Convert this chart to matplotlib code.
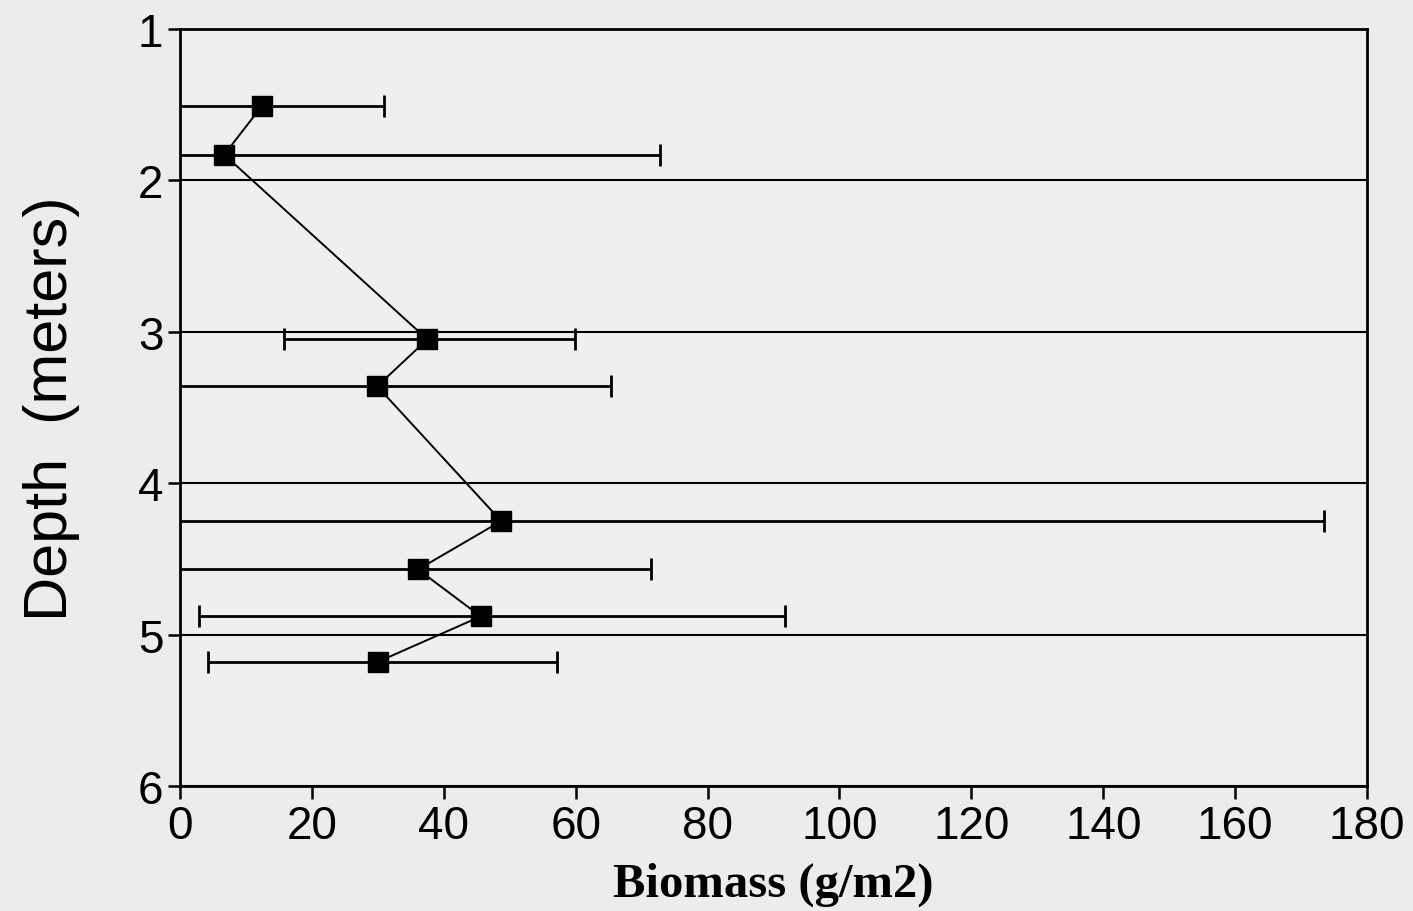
import matplotlib
matplotlib.use("Agg")
import matplotlib.pyplot as plt
import numpy as np

# depth (m) and biomass (g/m2) with lower/upper error-bar ends
depth = [1.51, 1.83, 3.05, 3.36, 4.25, 4.57, 4.88, 5.18]
biomass = [12.4, 6.7, 37.5, 29.9, 48.7, 36.1, 45.6, 30.0]
err_low_end = [-6.0, -53.0, 15.8, -6.0, -76.0, -1.0, 2.9, 4.2]
err_high_end = [31.0, 72.8, 59.9, 65.4, 173.5, 71.4, 91.7, 57.2]

x_ticks = [0, 20, 40, 60, 80, 100, 120, 140, 160, 180]
y_ticks = [1, 2, 3, 4, 5, 6]

bg = "#ececec"
fig = plt.figure(figsize=(14.13, 9.12), dpi=100, facecolor=bg)
ax = fig.add_axes([0.1274, 0.1371, 0.8401, 0.8300], facecolor="#efefef")

b = np.array(biomass)
xerr = np.vstack([b - np.array(err_low_end), np.array(err_high_end) - b])
ax.errorbar(biomass, depth, xerr=xerr, fmt="none", ecolor="black",
            elinewidth=2.0, capsize=8, capthick=2.0, zorder=3)
ax.plot(biomass, depth, color="black", linewidth=1.4, marker="s",
        markersize=14, markerfacecolor="black", zorder=4)

ax.set_xlim(0, 180)
ax.set_ylim(6, 1)
ax.set_xticks(x_ticks)
ax.set_yticks(y_ticks)
ax.yaxis.grid(True, color="black", linewidth=1.5)
ax.set_axisbelow(True)

for s in ax.spines.values():
    s.set_linewidth(2.0)
ax.tick_params(direction="out", length=9, width=1.8, labelsize=33)
ax.tick_params(axis="x", pad=4)
ax.tick_params(axis="y", pad=3)
for lab in ax.get_xticklabels() + ax.get_yticklabels():
    lab.set_fontfamily("Liberation Sans")

ax.set_xlabel("Biomass (g/m2)", fontfamily="Liberation Serif",
              fontweight="bold", fontsize=35, labelpad=10)
ax.set_ylabel("Depth  (meters)", fontfamily="Liberation Sans",
              fontsize=44, labelpad=42)

fig.savefig("out.png", dpi=100, facecolor=bg)
